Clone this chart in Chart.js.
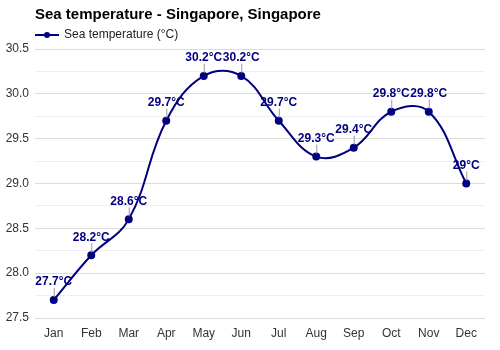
<!DOCTYPE html>
<html>
<head>
<meta charset="utf-8">
<script src="https://cdn.jsdelivr.net/npm/chart.js@4"></script>
<style>
    html, body { margin: 0; padding: 0; background: #fff; }
    #wrap { width: 500px; height: 350px; }
</style>
</head>
<body>
<div id="wrap"><canvas id="seaChart" width="500" height="350"></canvas></div>
<script>
// Chart data
const months = ["Jan", "Feb", "Mar", "Apr", "May", "Jun", "Jul", "Aug", "Sep", "Oct", "Nov", "Dec"];
const seaTemp = [27.7, 28.2, 28.6, 29.7, 30.2, 30.2, 29.7, 29.3, 29.4, 29.8, 29.8, 29.0];
const titleText = "Sea temperature - Singapore, Singapore";
const seriesName = "Sea temperature (°C)";

const navy = "#000080";

// Title + legend drawn in the header space
const headerPlugin = {
    id: "header",
    afterDraw(chart) {
        const ctx = chart.ctx;
        ctx.save();
        ctx.fillStyle = "#000";
        ctx.font = "bold 15px Arial, 'Liberation Sans', sans-serif";
        ctx.textBaseline = "middle";
        ctx.textAlign = "left";
        ctx.fillText(titleText, 35, 15);

        // legend marker: line with a dot
        ctx.strokeStyle = navy;
        ctx.lineWidth = 2;
        ctx.beginPath();
        ctx.moveTo(35, 35);
        ctx.lineTo(59, 35);
        ctx.stroke();
        ctx.fillStyle = navy;
        ctx.beginPath();
        ctx.arc(47, 35, 3, 0, Math.PI * 2);
        ctx.fill();

        ctx.fillStyle = "#222";
        ctx.font = "12px Arial, 'Liberation Sans', sans-serif";
        ctx.fillText(seriesName, 64, 35);
        ctx.restore();
    }
};

// Value labels with small leader lines
const labelPlugin = {
    id: "valueLabels",
    afterDatasetsDraw(chart) {
        const ctx = chart.ctx;
        const meta = chart.getDatasetMeta(0);
        ctx.save();
        meta.data.forEach((pt, i) => {
            ctx.strokeStyle = "#999";
            ctx.lineWidth = 1;
            ctx.beginPath();
            ctx.moveTo(pt.x + 0.5, pt.y - 3);
            ctx.lineTo(pt.x + 0.5, pt.y - 12);
            ctx.stroke();
            ctx.fillStyle = navy;
            ctx.font = "bold 12px Arial, 'Liberation Sans', sans-serif";
            ctx.textAlign = "center";
            ctx.textBaseline = "middle";
            ctx.fillText(seaTemp[i] + "°C", pt.x, pt.y - 18);
        });
        ctx.restore();
    }
};

new Chart(document.getElementById("seaChart"), {
    type: "line",
    data: {
        labels: months,
        datasets: [{
            label: seriesName,
            data: seaTemp,
            borderColor: navy,
            backgroundColor: navy,
            borderWidth: 2,
            pointRadius: 3,
            pointBackgroundColor: navy,
            tension: 0.4
        }]
    },
    options: {
        responsive: false,
        animation: false,
        layout: { padding: { top: 49, right: 15, left: 0, bottom: 0 } },
        plugins: {
            legend: { display: false },
            title: { display: false },
            tooltip: { enabled: false }
        },
        scales: {
            x: {
                offset: true,
                grid: { display: false, drawTicks: false },
                border: { display: false },
                ticks: {
                    color: "#333",
                    padding: 8,
                    font: { family: "Arial, 'Liberation Sans', sans-serif", size: 12 }
                },
                afterFit(scale) { scale.height = 32; }
            },
            y: {
                min: 27.5,
                max: 30.5,
                border: { display: false },
                grid: {
                    drawTicks: false,
                    color: (c) => (Math.abs(c.tick.value * 2 - Math.round(c.tick.value * 2)) < 1e-6 ? "#dcdcdc" : "#f0eef5")
                },
                ticks: {
                    stepSize: 0.25,
                    color: "#333",
                    padding: 6,
                    font: { family: "Arial, 'Liberation Sans', sans-serif", size: 12 },
                    callback: (v) => (Math.abs(v * 2 - Math.round(v * 2)) < 1e-6 ? v.toFixed(1) : "")
                },
                afterFit(scale) { scale.width = 35; }
            }
        }
    },
    plugins: [headerPlugin, labelPlugin]
});
</script>
</body>
</html>
